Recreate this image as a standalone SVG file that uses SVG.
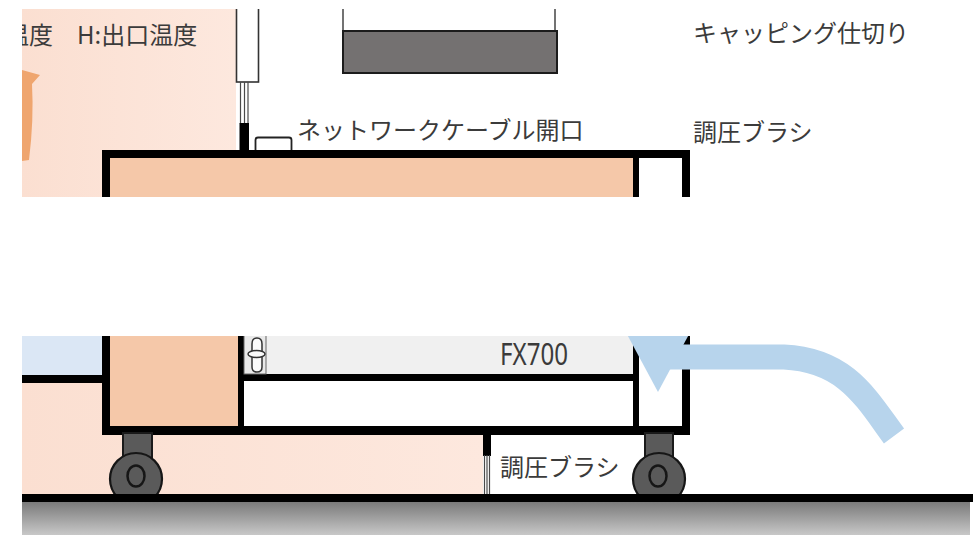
<svg xmlns="http://www.w3.org/2000/svg" width="977" height="540" viewBox="0 0 977 540">
  <style>
    .lbl { font-family: "Noto Sans CJK JP", "Noto Sans", sans-serif; font-size: 24px; fill: #3b3b3b; }
    .ink { fill: #000; }
    .rack { fill: #f5c8a9; }
    .warm { fill: url(#roomWarm); }
    .bristle { stroke: #4a4a4a; stroke-width: 1.2; }
    .wheel { fill: #5a5a5a; stroke: #161616; stroke-width: 2.2; }
    .hub { fill: none; stroke: #161616; stroke-width: 2.5; }
    .air-cool { fill: #b7d4ec; }
  </style>
  <defs>
    <clipPath id="upperView"><rect x="22" y="9" width="955" height="188"/></clipPath>
    <clipPath id="lowerView"><rect x="22" y="336" width="955" height="199"/></clipPath>
    <linearGradient id="floorShade" x1="0" y1="0" x2="0" y2="1">
      <stop offset="0" stop-color="#7a7a7a"/>
      <stop offset="1" stop-color="#c8c8c8"/>
    </linearGradient>
    <linearGradient id="roomWarm" x1="0" y1="0" x2="1" y2="0">
      <stop offset="0" stop-color="#fbdfd1"/>
      <stop offset="1" stop-color="#fde8de"/>
    </linearGradient>
  </defs>

  <rect width="977" height="540" fill="#fff"/>

  <!-- upper cut: top of the rack -->
  <g id="upper-view" clip-path="url(#upperView)">
    <rect id="warm-zone-top" class="warm" x="22" y="9" width="214" height="188"/>
    <path id="hot-exhaust" d="M22 70 L40 75 L32 84 Q34 120 29 160 L22 161 Z" fill="#efa56e"/>

    <g id="capping-partition">
      <line x1="343" y1="9" x2="343" y2="31" stroke="#444" stroke-width="1.5"/>
      <line x1="555" y1="9" x2="555" y2="55" stroke="#444" stroke-width="1.5"/>
      <rect x="343" y="31" width="214" height="42" fill="#747171" stroke="#1c1c1c" stroke-width="2"/>
    </g>

    <g id="duct">
      <rect x="236.5" y="0" width="22" height="82" fill="#fff" stroke="#333" stroke-width="1.6"/>
    </g>

    <g id="brush-top">
      <line class="bristle" x1="240.5" y1="82" x2="240.5" y2="124"/>
      <line class="bristle" x1="244.5" y1="82" x2="244.5" y2="124"/>
      <line class="bristle" x1="248" y1="82" x2="248" y2="124"/>
      <rect class="ink" x="239.5" y="123" width="9.5" height="30"/>
    </g>

    <g id="cable-opening">
      <path d="M255.5 151 V140 Q255.5 137.5 258 137.5 H289 Q291.5 137.5 291.5 140 V151" fill="#fff" stroke="#222" stroke-width="1.8"/>
    </g>

    <g id="rack-top">
      <rect class="rack" x="110" y="158" width="523" height="40"/>
      <rect x="639" y="158" width="43" height="40" fill="#fff"/>
      <rect class="ink" x="102" y="150" width="588" height="8"/>
      <rect class="ink" x="102" y="150" width="8" height="48"/>
      <rect class="ink" x="682" y="150" width="8" height="48"/>
      <rect class="ink" x="633" y="150" width="6" height="48"/>
    </g>

    <g id="labels-top">
      <text class="lbl" x="5" y="44">温度</text>
      <text class="lbl" x="77" y="44">H:出口温度</text>
      <text class="lbl" x="297" y="139">ネットワークケーブル開口</text>
      <text class="lbl" x="693" y="42">キャッピング仕切り</text>
      <text class="lbl" x="693" y="141">調圧ブラシ</text>
    </g>
  </g>

  <!-- lower cut: bottom of the rack and floor -->
  <g id="lower-view" clip-path="url(#lowerView)">
    <rect id="cool-zone" x="22" y="336" width="80" height="40" fill="#dbe7f5"/>
    <rect id="warm-zone-bottom" class="warm" x="22" y="383" width="461" height="112"/>
    <rect class="ink" x="22" y="375" width="80" height="8"/>

    <g id="rack-bottom">
      <rect class="rack" x="110" y="336" width="128" height="90"/>
      <rect x="244" y="336" width="389" height="38" fill="#f0f0f0"/>
      <rect x="244" y="381" width="389" height="45" fill="#fff"/>
      <rect x="639" y="336" width="43" height="90" fill="#fff"/>
      <rect class="ink" x="102" y="336" width="8" height="99"/>
      <rect class="ink" x="102" y="426" width="588" height="9"/>
      <rect class="ink" x="682" y="336" width="8" height="99"/>
      <rect class="ink" x="633" y="336" width="6" height="90"/>
      <rect class="ink" x="238" y="336" width="6" height="90"/>
      <rect class="ink" x="238" y="374" width="395" height="7"/>
    </g>

    <g id="cable-gland">
      <rect x="244" y="330" width="22" height="44" fill="#e9e9e9" stroke="#666" stroke-width="1"/>
      <g fill="#fafafa" stroke="#333" stroke-width="1.5">
        <path d="M252 351 V344 Q252 338 257 338 Q262 338 262 344 V351"/>
        <path d="M252 357 V367 Q252 372 257 372 Q262 372 262 367 V357"/>
        <ellipse cx="256.5" cy="354" rx="8.5" ry="3.5"/>
      </g>
    </g>

    <text id="fx700" x="500" y="365" font-family="Noto Sans, Liberation Sans, sans-serif" font-size="30" fill="#3b3b3b" textLength="68" lengthAdjust="spacingAndGlyphs">FX700</text>

    <g id="caster-left">
      <rect x="123" y="433" width="29" height="25" fill="#5a5a5a" stroke="#1a1a1a" stroke-width="2"/>
      <circle class="wheel" cx="136" cy="479" r="26"/>
      <ellipse class="hub" cx="136" cy="476" rx="8.5" ry="10.5"/>
    </g>
    <g id="caster-right">
      <rect x="645" y="433" width="28" height="25" fill="#5a5a5a" stroke="#1a1a1a" stroke-width="2"/>
      <circle class="wheel" cx="659" cy="479" r="26"/>
      <ellipse class="hub" cx="658" cy="476" rx="8.5" ry="10.5"/>
    </g>

    <g id="brush-bottom">
      <rect class="ink" x="483" y="435" width="8" height="21"/>
      <line class="bristle" x1="484.5" y1="455" x2="484.5" y2="495"/>
      <line class="bristle" x1="487" y1="455" x2="487" y2="495"/>
      <line class="bristle" x1="489.5" y1="455" x2="489.5" y2="495"/>
    </g>

    <g id="floor">
      <rect x="22" y="502" width="948" height="33" fill="url(#floorShade)"/>
      <rect class="ink" x="22" y="494" width="951" height="8"/>
    </g>

    <g id="airflow">
      <path d="M894 436 C866 398 846 360 784 357 L670 357" fill="none" stroke="#b7d4ec" stroke-width="25"/>
      <polygon class="air-cool" points="622,325 694,325 658,392"/>
    </g>

    <text class="lbl" x="500" y="476">調圧ブラシ</text>
  </g>
</svg>
